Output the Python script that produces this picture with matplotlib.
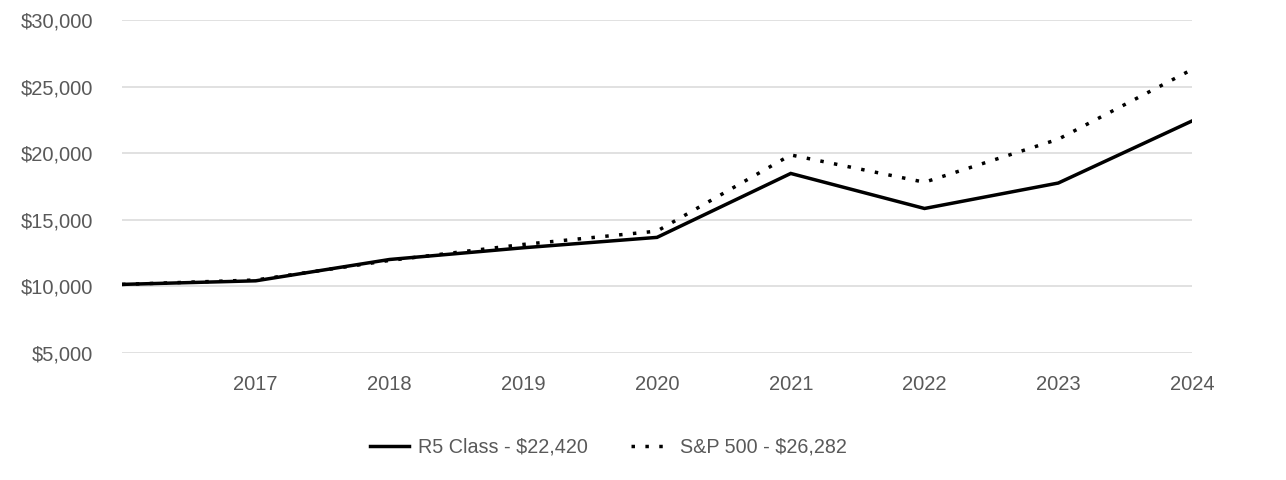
#!/usr/bin/env python3
"""Growth of $10,000: R5 Class vs S&P 500."""
import matplotlib
matplotlib.use("Agg")
import matplotlib.pyplot as plt
from matplotlib.ticker import FuncFormatter

years = [2016, 2017, 2018, 2019, 2020, 2021, 2022, 2023, 2024]
year_labels = ["", "2017", "2018", "2019", "2020", "2021", "2022", "2023", "2024"]
r5_class = [10150, 10420, 12020, 12900, 13680, 18480, 15850, 17760, 22420]
sp500 = [10150, 10480, 11950, 13150, 14150, 19870, 17820, 21050, 26282]
y_ticks = [5000, 10000, 15000, 20000, 25000, 30000]

plt.rcParams["font.family"] = ["Liberation Sans", "DejaVu Sans"]
GREY = "#595959"

fig = plt.figure(figsize=(12.86, 4.8), dpi=100)
ax = fig.add_axes([122 / 1286, 1 - 353 / 480, 1070 / 1286, 333 / 480])

x = list(range(len(years)))
ax.plot(x, r5_class, color="black", lw=2.5, solid_joinstyle="miter",
        label=f"R5 Class - ${r5_class[-1]:,}")
ax.plot(x, sp500, color="black", lw=2.5, ls=(0, (1, 3.0)),
        label=f"S&P 500 - ${sp500[-1]:,}")

ax.set_xlim(0, len(years) - 1)
ax.set_ylim(y_ticks[0], y_ticks[-1])
ax.set_xticks(x)
ax.set_xticklabels(year_labels)
ax.set_yticks(y_ticks)
ax.yaxis.set_major_formatter(FuncFormatter(lambda v, p: f"${v:,.0f}"))
ax.tick_params(axis="both", length=0, labelsize=14.5, labelcolor=GREY)
ax.tick_params(axis="x", pad=16)
ax.tick_params(axis="y", pad=21)
ax.grid(axis="y", color="#dcdcdc", lw=1.2)
ax.set_axisbelow(True)
for s in ax.spines.values():
    s.set_visible(False)

fig.legend(loc="center", bbox_to_anchor=(608 / 1286, 1 - 447 / 480), ncol=2,
           frameon=False, fontsize=14.2, labelcolor=GREY, handlelength=2.0,
           columnspacing=2.2, handletextpad=0.45)

fig.savefig("out.png", dpi=100)
